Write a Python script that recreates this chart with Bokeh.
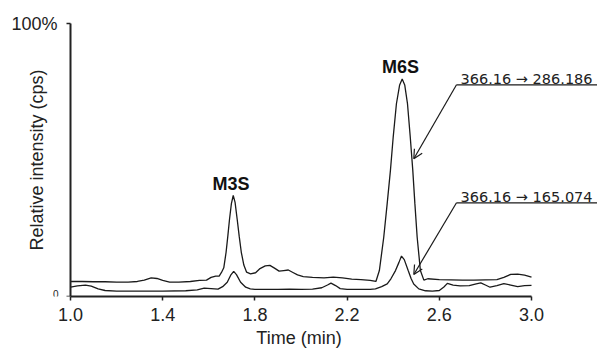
import math
from bokeh.plotting import figure
from bokeh.models import Range1d, FixedTicker, PrintfTickFormatter, Arrow, OpenHead, ColumnDataSource
from bokeh.core.properties import value
from bokeh.embed import file_html
from bokeh.resources import INLINE

# ---- data (time in min, relative intensity in %) ----
t_upper = [1.00, 1.05, 1.10, 1.15, 1.20, 1.25, 1.29, 1.32, 1.35, 1.375, 1.40, 1.43, 1.47, 1.52,
           1.56, 1.59, 1.61, 1.63, 1.645, 1.655, 1.665, 1.675, 1.683, 1.69, 1.698, 1.706, 1.714,
           1.723, 1.732, 1.741, 1.752, 1.764, 1.781, 1.803, 1.82, 1.845, 1.865, 1.885, 1.905,
           1.925, 1.945, 1.965, 1.985, 2.01, 2.05, 2.10, 2.14, 2.18, 2.22, 2.26, 2.30, 2.325,
           2.34, 2.359, 2.374, 2.388, 2.400, 2.414, 2.428, 2.439, 2.450, 2.462, 2.474, 2.485,
           2.494, 2.504, 2.518, 2.533, 2.55, 2.60, 2.65, 2.70, 2.75, 2.80, 2.85, 2.88, 2.91,
           2.94, 2.97, 3.00]
i_upper = [5.5, 5.5, 5.4, 5.4, 5.3, 5.3, 5.5, 6.0, 6.8, 6.6, 5.9, 5.3, 5.3, 5.5,
           5.9, 6.0, 7.0, 7.5, 7.5, 8.8, 10.5, 16.2, 22.5, 28.4, 34.0, 37.0, 34.5,
           28.4, 22.0, 16.2, 11.5, 8.9, 8.3, 8.7, 10.1, 11.2, 11.4, 10.4, 9.3,
           9.5, 9.7, 8.8, 7.9, 7.3, 7.0, 6.8, 7.1, 6.8, 6.4, 6.2, 5.9, 5.5,
           9.5, 21.7, 34.1, 46.2, 58.4, 70.6, 77.5, 79.7, 77.5, 70.6, 58.4, 46.2,
           34.1, 21.7, 9.5, 6.0, 6.5, 6.2, 6.1, 6.0, 6.0, 6.1, 6.2, 7.0, 8.1,
           8.2, 7.8, 7.1]

t_lower = [1.00, 1.03, 1.065, 1.09, 1.12, 1.15, 1.20, 1.30, 1.40, 1.50, 1.55, 1.58, 1.61, 1.64,
           1.66, 1.68, 1.695, 1.708, 1.72, 1.738, 1.76, 1.78, 1.80, 1.85, 1.90, 1.95, 2.00,
           2.05, 2.09, 2.115, 2.13, 2.15, 2.17, 2.20, 2.25, 2.30, 2.323, 2.35, 2.374, 2.39,
           2.41, 2.425, 2.436, 2.448, 2.465, 2.478, 2.489, 2.511, 2.54, 2.57, 2.60, 2.62,
           2.635, 2.66, 2.69, 2.73, 2.76, 2.78, 2.80, 2.82, 2.85, 2.88, 2.91, 2.94, 2.97, 3.00]
i_lower = [3.4, 3.9, 4.2, 3.8, 2.8, 2.2, 2.0, 2.0, 2.0, 2.1, 2.4, 3.1, 2.9, 2.7,
           3.6, 5.2, 7.8, 9.2, 8.0, 5.2, 3.4, 2.8, 2.6, 2.6, 2.6, 2.7, 2.6,
           2.7, 3.2, 4.2, 4.9, 4.0, 2.9, 2.6, 2.6, 2.6, 2.8, 3.6, 4.6, 6.5,
           9.5, 12.5, 14.8, 13.5, 9.5, 6.5, 4.6, 2.8, 2.1, 2.0, 2.2, 3.5,
           4.8, 4.2, 3.9, 4.0, 4.6, 5.0, 4.2, 3.4, 4.0, 4.7, 4.2, 3.6, 4.0, 4.1]

x_ticks = [1.0, 1.4, 1.8, 2.2, 2.6, 3.0]
y_tick_values = [0, 100]
y_tick_labels = ["0", "100%"]
y_title = "Relative intensity (cps)"
x_title = "Time (min)"
peak_names = ["M3S", "M6S"]
transition_labels = ["366.16 \u2192 286.186", "366.16 \u2192 165.074"]

# ---- geometry ----
PX_PER_MIN = 230.5
PX_PER_PCT = 2.73
x_start = 1.0 - 70 / PX_PER_MIN
x_end = 1.0 + 527 / PX_PER_MIN
y_end = 296 / PX_PER_PCT

p = figure(width=597, height=354, x_range=Range1d(x_start, x_end), y_range=Range1d(0, y_end),
           toolbar_location=None, output_backend="svg", y_axis_location=None,
           min_border_left=0, min_border_right=0, min_border_top=0, min_border_bottom=58)
p.outline_line_color = None
p.grid.visible = False
p.background_fill_color = "white"
p.border_fill_color = "white"

ink = "#1a1a1a"
axc = "#222222"
FONT = "Liberation Sans"

p.line(t_upper, i_upper, line_color=ink, line_width=1.3)
p.line(t_lower, i_lower, line_color=ink, line_width=1.3)

# x axis (Bokeh axis, limited to 1.0..3.0)
xa = p.xaxis[0]
xa.ticker = FixedTicker(ticks=x_ticks)
xa.formatter = PrintfTickFormatter(format="%.1f")
xa.bounds = (1.0, 3.0)
xa.axis_line_width = 2
xa.axis_line_color = axc
xa.major_tick_line_color = axc
xa.major_tick_line_width = 1.5
xa.major_tick_in = 0
xa.major_tick_out = 4
xa.minor_tick_line_color = None
xa.major_label_text_font = FONT
xa.major_label_text_font_size = "18px"
xa.major_label_text_color = axc
xa.major_label_standoff = 7
xa.axis_label = x_title
xa.axis_label_text_font = FONT
xa.axis_label_text_font_size = "18px"
xa.axis_label_text_font_style = "normal"
xa.axis_label_text_color = axc
xa.axis_label_standoff = 4

# y axis drawn at t = 1.0 in data space
tick_len = 4 / PX_PER_MIN
p.segment(x0=[1.0], y0=[y_tick_values[0]], x1=[1.0], y1=[y_tick_values[-1]],
          line_color=axc, line_width=2)
p.segment(x0=[1.0 - tick_len] * 2, y0=y_tick_values, x1=[1.0] * 2, y1=y_tick_values,
          line_color=axc, line_width=1.5)
p.text(x=[1.0], y=[y_tick_values[1]], text=[y_tick_labels[1]], x_offset=-13,
       text_align="right", text_baseline="middle",
       text_font=value(FONT), text_font_size="18px", text_color=axc)
p.text(x=[1.0], y=[y_tick_values[0]], text=[y_tick_labels[0]], x_offset=-12, y_offset=1,
       text_align="right", text_baseline="bottom",
       text_font=value(FONT), text_font_size="10px", text_color=axc)
p.text(x=[1.0], y=[50], text=[y_title], x_offset=-34, angle=math.pi / 2,
       text_align="center", text_baseline="middle",
       text_font=value(FONT), text_font_size="18px", text_color=axc)

# peak names
src = ColumnDataSource(dict(x=[1.696, 2.432], y=[41.3, 84.2], t=peak_names))
p.text(x="x", y="y", text="t", source=src, text_align="center", text_baseline="alphabetic",
       text_font=value(FONT), text_font_style="bold", text_font_size="18px",
       text_color="#111111")

# transition annotations
def xs(px):
    return 1.0 + (px - 70) / PX_PER_MIN

def ys(py):
    return (296 - py) / PX_PER_PCT

lab_src = ColumnDataSource(dict(x=[xs(460), xs(460)], y=[ys(78.5), ys(196.5)], t=transition_labels))
p.text(x="x", y="y", text="t", source=lab_src, text_align="left", text_baseline="alphabetic",
       text_font=value("DejaVu Sans"), text_font_size="14.5px", text_color=axc)

for y_line, tip in [(84.3, (413.3, 158.3)), (202.3, (413.3, 274.0))]:
    p.segment(x0=[xs(456)], y0=[ys(y_line)], x1=[x_end], y1=[ys(y_line)], line_color=ink, line_width=1.2)
    p.add_layout(Arrow(x_start=xs(456), y_start=ys(y_line), x_end=xs(tip[0]), y_end=ys(tip[1]),
                       line_color=ink, line_width=1.2,
                       end=OpenHead(size=9, line_width=1.2, line_color=ink)))

open("out.html", "w").write(file_html(p, INLINE))
